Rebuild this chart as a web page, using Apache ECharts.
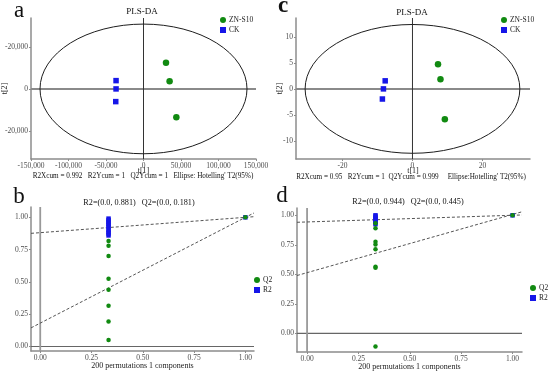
<!DOCTYPE html>
<html><head><meta charset="utf-8">
<script src="https://cdn.jsdelivr.net/npm/echarts@6/dist/echarts.min.js"></script>
<style>html,body{margin:0;padding:0;background:#fff}#c{width:550px;height:371px}</style>
</head><body><div id="c"></div>
<script>
// ---- Panel a (PLS-DA scores) ----
const aZN = [[30000,12500],[34800,3700],[43800,-13500]];
const aCK = [[-36600,3950],[-36600,0],[-37000,-6050]];
const aEllipse = [[0,0,138000,30900]]; // centre x, centre y, semi-axis x, semi-axis y
const aXRange = [-150000,150000];
const aYRange = [-33400,33800];
const aXTicks = [-150000,-100000,-50000,0,50000,100000,150000];
const aXLabels = ['-150,000','-100,000','-50,000','0','50,000','100,000','150,000'];
const aYTicks = [-20000,0,20000];
const aYLabels = ['-20,000','0','-20,000'];
// ---- Panel c (PLS-DA scores) ----
const cZN = [[7.3,4.75],[8.0,1.85],[9.25,-5.85]];
const cCK = [[-7.8,1.55],[-8.3,0],[-8.6,-1.95]];
const cEllipse = [[0,0,30.7,12.4]];
const cXRange = [-33.3,33.6];
const cYRange = [-13.5,13.65];
const cXTicks = [-20,0,20];
const cXLabels = ['-20','0','20'];
const cYTicks = [-10,-5,0,5,10];
const cYLabels = ['-10','-5','0','5','10'];
// ---- Panel b (permutation test) ----
const bQ2 = [[0.333,0.816],[0.333,0.78],[0.333,0.70],[0.333,0.525],[0.333,0.44],[0.333,0.315],[0.333,0.193],[0.333,0.05],[1,1]];
const bR2 = [[0.333,0.99],[0.333,0.978],[0.333,0.965],[0.333,0.952],[0.333,0.94],[0.333,0.925],[0.333,0.905],[0.333,0.89],[0.333,0.875],[0.333,0.86],[1,1]];
const bR2Line = [[-0.045,0.876],[1.042,1.005]];
const bQ2Line = [[-0.045,0.144],[1.042,1.034]];
const bXRange = [-0.045,1.042];
const bYRange = [-0.035,1.08];
// ---- Panel d (permutation test) ----
const dQ2 = [[0.333,0.932],[0.333,0.89],[0.333,0.777],[0.333,0.752],[0.333,0.713],[0.333,0.565],[0.333,0.556],[0.333,-0.112],[1,1]];
const dR2 = [[0.333,1.0],[0.333,0.99],[0.333,0.978],[0.333,0.965],[0.333,0.952],[0.333,0.94],[0.333,0.925],[1,1]];
const dR2Line = [[-0.049,0.941],[1.046,1.003]];
const dQ2Line = [[-0.049,0.49],[1.046,1.03]];
const dXRange = [-0.049,1.046];
const dYRange = [-0.158,1.062];
const permTicks = [0,0.25,0.5,0.75,1];
const permLabels = ['0.00','0.25','0.50','0.75','1.00'];

const FONT = '"Liberation Serif","Times New Roman",serif';
const green = '#118a11', blue = '#1616e8';
const axisGray = '#8c8c8c', labelColor = '#4d4d4d';

function fmt(ticks, labels){ return v => { const i = ticks.findIndex(t => Math.abs(t - v) < 1e-9); return i < 0 ? '' : labels[i]; }; }
function axis(idx, range, ticks, labels, extra){
  return Object.assign({
    type:'value', gridIndex: idx, min:range[0], max:range[1], scale:true,
    splitLine:{show:false}, nameMoveOverlap:false,
    axisLine:{show:true, onZero:false, lineStyle:{color:axisGray, width:1.5}},
    axisTick:{show:true, length:2, customValues:ticks, lineStyle:{color:axisGray}},
    axisLabel:{customValues:ticks, formatter:fmt(ticks, labels), color:labelColor, fontFamily:FONT, fontSize:7.5, margin:3},
    nameTextStyle:{fontFamily:FONT, fontSize:8, color:'#222'}
  }, extra||{});
}

// ellipse + zero reference lines of a score plot, all placed through the axes (api.coord)
function ellipseSeries(data, xi, xr, yr){
  return {
    type:'custom', xAxisIndex:xi, yAxisIndex:xi, data, silent:true, z:2, clip:false,
    renderItem(params, api){
      const c = api.coord([api.value(0), api.value(1)]);
      const px = api.coord([api.value(0)+api.value(2), api.value(1)]);
      const py = api.coord([api.value(0), api.value(1)+api.value(3)]);
      const rx = Math.abs(px[0]-c[0]), ry = Math.abs(py[1]-c[1]);
      const h0 = api.coord([xr[0],0]), h1 = api.coord([xr[1],0]);
      const v0 = api.coord([0,yr[0]]), v1 = api.coord([0,yr[1]]);
      const d = 'M'+(c[0]-rx)+' '+c[1]+' A'+rx+' '+ry+' 0 1 0 '+(c[0]+rx)+' '+c[1]+' A'+rx+' '+ry+' 0 1 0 '+(c[0]-rx)+' '+c[1]+' Z';
      return {type:'group', children:[
        {type:'line', shape:{x1:h0[0], y1:h0[1], x2:h1[0], y2:h1[1]}, style:{stroke:'#8a8a8a', lineWidth:2}},
        {type:'line', shape:{x1:v0[0], y1:v0[1], x2:v1[0], y2:v1[1]}, style:{stroke:'#333', lineWidth:1}},
        {type:'path', shape:{pathData:d}, style:{fill:'none', stroke:'#1e1e1e', lineWidth:1}}
      ]};
    }
  };
}
function pts(name, data, xi, sym, size, color, z){
  return {type:'scatter', name, data, xAxisIndex:xi, yAxisIndex:xi, symbol:sym, symbolSize:size, itemStyle:{color, opacity:1}, z, silent:true};
}
function dashLine(data, xi){
  return {type:'line', data, xAxisIndex:xi, yAxisIndex:xi, showSymbol:false, symbol:'none', silent:true, z:1,
    lineStyle:{color:'#555', width:1, type:[3,2]}};
}
function solidLine(data, xi, color, width){
  return {type:'line', data, xAxisIndex:xi, yAxisIndex:xi, showSymbol:false, symbol:'none', silent:true, z:1,
    lineStyle:{color, width, type:'solid'}};
}
function zeroLines(xi, xr, yr, hColor, hWidth, vColor, vWidth){
  return [solidLine([[xr[0],0],[xr[1],0]], xi, hColor, hWidth), solidLine([[0,yr[0]],[0,yr[1]]], xi, vColor, vWidth)];
}

const chart = echarts.init(document.getElementById('c'), null, {renderer:'canvas'});
const txt = (text, x, y, size, weight) => ({type:'text', x, y, style:{text, fontFamily:FONT, fontSize:size, fontWeight:weight||'normal', fill:'#111', textAlign:'center', textVerticalAlign:'middle'}});
const legendBase = {orient:'vertical', itemWidth:6, itemHeight:6, itemGap:2, padding:0, selectedMode:false,
  textStyle:{fontFamily:FONT, fontSize:7.5, color:'#222', padding:[0,0,0,-2]}};
const gridBase = {outerBoundsMode:'none', containLabel:false};

chart.setOption({
  animation:false,
  backgroundColor:'#fff',
  grid:[
    Object.assign({left:31, top:18, width:225, height:141}, gridBase),
    Object.assign({left:296, top:18, width:234, height:141}, gridBase),
    Object.assign({left:31, top:207, width:223, height:144}, gridBase),
    Object.assign({left:297, top:208, width:225, height:144}, gridBase)
  ],
  xAxis:[
    axis(0,aXRange,aXTicks,aXLabels,{name:'t[1]', nameLocation:'middle', nameGap:8}),
    axis(1,cXRange,cXTicks,cXLabels,{name:'t[1]', nameLocation:'middle', nameGap:8}),
    axis(2,bXRange,permTicks,permLabels,{name:'200 permutations 1 components', nameLocation:'middle', nameGap:11}),
    axis(3,dXRange,permTicks,permLabels,{name:'200 permutations 1 components', nameLocation:'middle', nameGap:10.5})
  ],
  yAxis:[
    axis(0,aYRange,aYTicks,aYLabels,{name:'t[2]', nameLocation:'middle', nameGap:22}),
    axis(1,cYRange,cYTicks,cYLabels,{name:'t[2]', nameLocation:'middle', nameGap:12}),
    axis(2,bYRange,permTicks,permLabels),
    axis(3,dYRange,permTicks,permLabels)
  ],
  legend:[
    Object.assign({}, legendBase, {left:220, top:16, data:[{name:'ZN-S10', icon:'circle'},{name:'CK', icon:'rect'}]}),
    Object.assign({}, legendBase, {left:501, top:16, data:[{name:'ZN-S10', icon:'circle'},{name:'CK', icon:'rect'}]}),
    Object.assign({}, legendBase, {left:254, top:276, data:[{name:'Q2', icon:'circle'},{name:'R2', icon:'rect'}]}),
    Object.assign({}, legendBase, {left:530, top:284, data:[{name:'Q2', icon:'circle'},{name:'R2', icon:'rect'}]})
  ],
  series:[
    ellipseSeries(aEllipse,0,aXRange,aYRange),
    pts('ZN-S10', aZN, 0, 'circle', 6.5, green, 5),
    pts('CK', aCK, 0, 'rect', 5.5, blue, 5),
    ellipseSeries(cEllipse,1,cXRange,cYRange),
    pts('ZN-S10', cZN, 1, 'circle', 6.5, green, 5),
    pts('CK', cCK, 1, 'rect', 5.5, blue, 5),
    ...zeroLines(2, bXRange, bYRange, '#666', 1.2, '#999', 1.8),
    dashLine(bR2Line,2), dashLine(bQ2Line,2),
    pts('R2', bR2, 2, 'rect', 4.5, blue, 4),
    pts('Q2', bQ2, 2, 'circle', 4.5, green, 5),
    ...zeroLines(3, dXRange, dYRange, '#666', 1.2, '#999', 1.8),
    dashLine(dR2Line,3), dashLine(dQ2Line,3),
    pts('R2', dR2, 3, 'rect', 4.5, blue, 4),
    pts('Q2', dQ2, 3, 'circle', 4.5, green, 5)
  ],
  graphic:[
    txt('a', 19, 11, 23),
    txt('c', 283, 6, 23, 'bold'),
    txt('b', 19, 197, 23),
    txt('d', 282, 196, 23),
    txt('PLS-DA', 142, 12, 9),
    txt('PLS-DA', 412, 13, 9),
    txt('R2=(0.0, 0.881)   Q2=(0.0, 0.181)', 139, 203, 8.2),
    txt('R2=(0.0, 0.944)   Q2=(0.0, 0.445)', 408, 202, 8.2),
    txt("R2Xcum = 0.992   R2Ycum = 1   Q2Ycum = 1   Ellipse: Hotelling' T2(95%)", 143, 176.5, 7.2),
    txt("R2Xcum = 0.95   R2Ycum = 1  Q2Ycum = 0.999     Ellipse:Hotelling' T2(95%)", 411, 177, 7.2)
  ]
});
</script></body></html>
